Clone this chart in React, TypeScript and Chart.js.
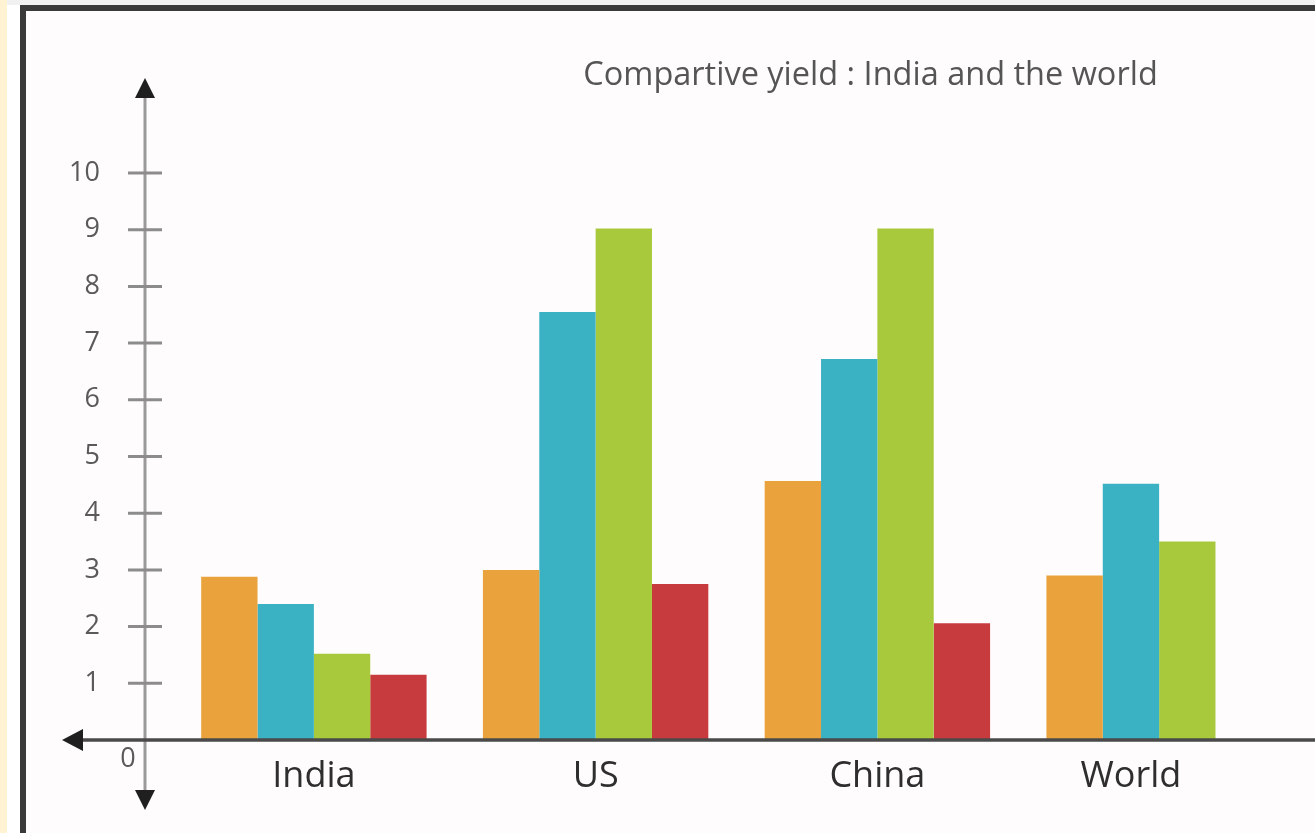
import React, { useEffect, useRef } from "react";
import { Chart, registerables } from "chart.js";

Chart.register(...registerables);

const categories = ["India", "US", "China", "World"];
const seriesOrange = [2.88, 3.0, 4.57, 2.9];
const seriesBlue = [2.4, 7.55, 6.72, 4.52];
const seriesGreen = [1.52, 9.02, 9.02, 3.5];
const seriesRed: (number | null)[] = [1.15, 2.75, 2.06, null];
const yTickValues = [1, 2, 3, 4, 5, 6, 7, 8, 9, 10];
const titleText = "Compartive yield : India and the world";

const FONT = "'Open Sans', 'DejaVu Sans', sans-serif";

const axesPlugin = {
  id: "customAxes",
  afterDraw(chart: any) {
    const { ctx, chartArea, scales } = chart;
    const x = scales.x;
    const y = scales.y;
    const ax = chartArea.left - 28;
    const y0 = y.getPixelForValue(0);
    const yTop = y.getPixelForValue(10);
    ctx.save();

    // y axis line
    ctx.strokeStyle = "#9a9a9a";
    ctx.lineWidth = 3;
    ctx.beginPath();
    ctx.moveTo(ax, yTop - 80);
    ctx.lineTo(ax, y0 + 55);
    ctx.stroke();

    // tick marks
    ctx.strokeStyle = "#8c8c8c";
    ctx.lineWidth = 3;
    yTickValues.forEach((v) => {
      const py = y.getPixelForValue(v);
      ctx.beginPath();
      ctx.moveTo(ax - 17, py);
      ctx.lineTo(ax + 17, py);
      ctx.stroke();
    });

    // tick labels
    ctx.fillStyle = "#5a5a5a";
    ctx.font = `27px ${FONT}`;
    ctx.textAlign = "right";
    ctx.textBaseline = "middle";
    yTickValues.forEach((v) => {
      const py = y.getPixelForValue(v);
      ctx.fillText(String(v), ax - 45, py);
    });
    ctx.textAlign = "center";
    ctx.fillText("0", ax - 17, y0 + 19);

    // x axis line
    ctx.strokeStyle = "#4a4a4a";
    ctx.lineWidth = 3.5;
    ctx.beginPath();
    ctx.moveTo(ax - 70, y0);
    ctx.lineTo(chart.width, y0);
    ctx.stroke();

    // arrows
    ctx.fillStyle = "#1f1f1f";
    ctx.beginPath();
    ctx.moveTo(ax, yTop - 95);
    ctx.lineTo(ax - 10, yTop - 75);
    ctx.lineTo(ax + 10, yTop - 75);
    ctx.closePath();
    ctx.fill();
    ctx.beginPath();
    ctx.moveTo(ax, y0 + 70);
    ctx.lineTo(ax - 10, y0 + 50);
    ctx.lineTo(ax + 10, y0 + 50);
    ctx.closePath();
    ctx.fill();
    ctx.beginPath();
    ctx.moveTo(ax - 83, y0);
    ctx.lineTo(ax - 62, y0 - 11);
    ctx.lineTo(ax - 62, y0 + 11);
    ctx.closePath();
    ctx.fill();

    // category labels centered over present bars
    ctx.fillStyle = "#2e2e2e";
    ctx.font = `500 36px ${FONT}`;
    ctx.textAlign = "center";
    ctx.textBaseline = "middle";
    categories.forEach((c, j) => {
      let minL = Infinity;
      let maxR = -Infinity;
      chart.data.datasets.forEach((ds: any, i: number) => {
        if (ds.data[j] == null) return;
        const el = chart.getDatasetMeta(i).data[j] as any;
        if (!el) return;
        minL = Math.min(minL, el.x - el.width / 2);
        maxR = Math.max(maxR, el.x + el.width / 2);
      });
      const cx = isFinite(minL) ? (minL + maxR) / 2 : x.getPixelForValue(j);
      ctx.fillText(c, cx, y0 + 37);
    });

    // title
    ctx.fillStyle = "#555555";
    ctx.font = `32.5px ${FONT}`;
    ctx.textAlign = "center";
    ctx.textBaseline = "middle";
    ctx.fillText(titleText, chart.width * 0.662, yTop - 97);

    ctx.restore();
  },
};

export default function App() {
  const canvasRef = useRef<HTMLCanvasElement | null>(null);

  useEffect(() => {
    document.body.style.margin = "0";
    const canvas = canvasRef.current;
    if (!canvas) return;
    const chart = new Chart(canvas, {
      type: "bar",
      data: {
        labels: categories,
        datasets: [
          { label: "Series 1", data: seriesOrange, backgroundColor: "#E9A23C" },
          { label: "Series 2", data: seriesBlue, backgroundColor: "#3BB1C4" },
          { label: "Series 3", data: seriesGreen, backgroundColor: "#A9C93D" },
          { label: "Series 4", data: seriesRed as any, backgroundColor: "#C73B3E" },
        ],
      },
      options: {
        animation: false,
        responsive: true,
        maintainAspectRatio: false,
        layout: { padding: { left: 173, right: 15, top: 173, bottom: 93 } },
        datasets: { bar: { categoryPercentage: 0.8, barPercentage: 1.0 } },
        plugins: { legend: { display: false }, tooltip: { enabled: false }, title: { display: false } },
        scales: {
          x: { display: false, offset: true, grid: { display: false } },
          y: { display: false, min: 0, max: 10 },
        },
      },
      plugins: [axesPlugin],
    });
    return () => chart.destroy();
  }, []);

  return (
    <div style={{ position: "fixed", left: 0, top: 0, width: 1315, height: 833, background: "#ffffff", overflow: "hidden" }}>
      <div style={{ position: "absolute", left: 0, top: 0, width: 1315, height: 5, background: "#f1f1f1" }} />
      <div style={{ position: "absolute", left: 0, top: 0, width: 7, height: 833, background: "#FFF3D4" }} />
      <div
        style={{
          position: "absolute",
          left: 20,
          top: 5,
          width: 1400,
          height: 1000,
          borderLeft: "6px solid #3a3a3a",
          borderTop: "6px solid #3a3a3a",
          background: "#fefcfd",
        }}
      />
      <div style={{ position: "absolute", left: 0, top: 0, width: 1315, height: 833 }}>
        <canvas ref={canvasRef} />
      </div>
    </div>
  );
}
